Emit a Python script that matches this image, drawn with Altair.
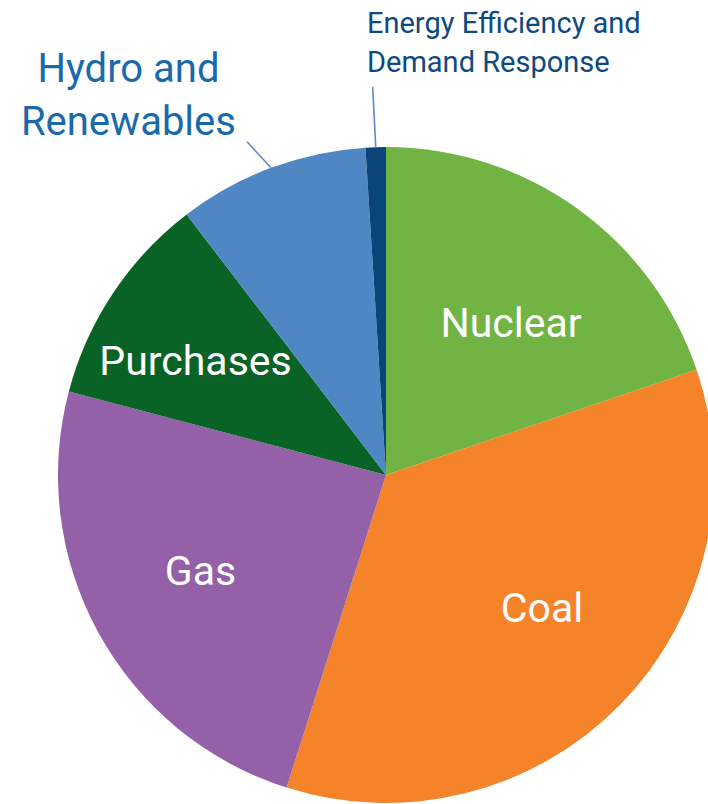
import altair as alt
import pandas as pd
import numpy as np

# ---- data ----
sources = ["Nuclear", "Coal", "Gas", "Purchases", "Hydro and Renewables",
           "Energy Efficiency and Demand Response"]
shares = [19.8, 35.1, 24.2, 10.5, 9.4, 1.0]
colors = ["#72B443", "#F5832A", "#9461A9", "#0A6326", "#4F87C5", "#0B4479"]
inside_sources = ["Nuclear", "Coal", "Gas", "Purchases"]
outside_labels = ["Hydro and\nRenewables", "Energy Efficiency and\nDemand Response"]
outside_sources = ["Hydro and Renewables", "Energy Efficiency and Demand Response"]

# ---- layout constants ----
W, H = 708, 804
CX, CY, R = 386, 475, 328
LABEL_R = 206
FONT = "Roboto, Liberation Sans Narrow, sans-serif"
WEIGHT = 400
# pixel nudges for inside labels (dx, dy)
inside_nudge = {"Nuclear": (5, 29), "Coal": (9, 3), "Gas": (-5, 11), "Purchases": (-19, 14)}
# leader-line end offsets from slice edge
leader_off = {"Hydro and Renewables": (-24, -26),
              "Energy Efficiency and Demand Response": (-3, -60)}

df = pd.DataFrame({"source": sources, "share": shares,
                   "order": list(range(len(sources)))})

# leader lines derived from the slice mid-angles
total = float(np.sum(shares))
cum = np.cumsum(shares)
mid = (cum - np.array(shares) / 2) / total * 2 * np.pi
rows = []
for s, m in zip(sources, mid):
    if s in outside_sources:
        x1 = CX + R * np.sin(m)
        y1 = CY - R * np.cos(m)
        ox, oy = leader_off[s]
        rows.append({"source": s, "x1": x1, "y1": y1, "x2": x1 + ox, "y2": y1 + oy,
                     "text": outside_labels[outside_sources.index(s)]})
lead = pd.DataFrame(rows)

base = alt.Chart(df).encode(
    theta=alt.Theta("share:Q", stack=True),
    order=alt.Order("order:Q"),
)

arcs = base.mark_arc(radius=R, stroke=None).encode(
    color=alt.Color("source:N", scale=alt.Scale(domain=sources, range=colors), legend=None),
    x=alt.value(CX), y=alt.value(CY),
)

label_layers = []
for s in inside_sources:
    dx, dy = inside_nudge[s]
    label_layers.append(
        base.transform_calculate(lbl=f"datum.source === '{s}' ? datum.source : ''")
        .mark_text(radius=LABEL_R, font=FONT, fontSize=41, fontWeight=WEIGHT, color="white",
                   align="center", baseline="alphabetic", dx=dx, dy=dy)
        .encode(text="lbl:N", x=alt.value(CX), y=alt.value(CY))
    )

rules = alt.Chart(lead).mark_rule(color="#5B8DCA", strokeWidth=1.6).encode(
    x=alt.X("x1:Q", scale=None, axis=None),
    y=alt.Y("y1:Q", scale=None, axis=None),
    x2="x2:Q", y2="y2:Q",
)

hydro_txt = alt.Chart(lead[lead.source == "Hydro and Renewables"]).mark_text(
    font=FONT, fontSize=40, fontWeight=WEIGHT, color="#1A6AAB", align="center",
    baseline="alphabetic", lineBreak="\n", lineHeight=53, dx=-118.6, dy=-60,
).encode(x=alt.X("x2:Q", scale=None, axis=None), y=alt.Y("y2:Q", scale=None, axis=None), text="text:N")

ee_txt = alt.Chart(lead[lead.source == "Energy Efficiency and Demand Response"]).mark_text(
    font=FONT, fontSize=29, fontWeight=WEIGHT, color="#0E4A80", align="left",
    baseline="alphabetic", lineBreak="\n", lineHeight=39, dx=-5.7, dy=-54,
).encode(x=alt.X("x2:Q", scale=None, axis=None), y=alt.Y("y2:Q", scale=None, axis=None), text="text:N")

chart = alt.layer(arcs, *label_layers, rules, hydro_txt, ee_txt).properties(
    width=W, height=H, autosize=alt.AutoSizeParams(type="none"), padding=0,
    background="white",
).configure_view(stroke=None)

chart.save("out.html", embed_options={"renderer": "svg", "actions": False})
